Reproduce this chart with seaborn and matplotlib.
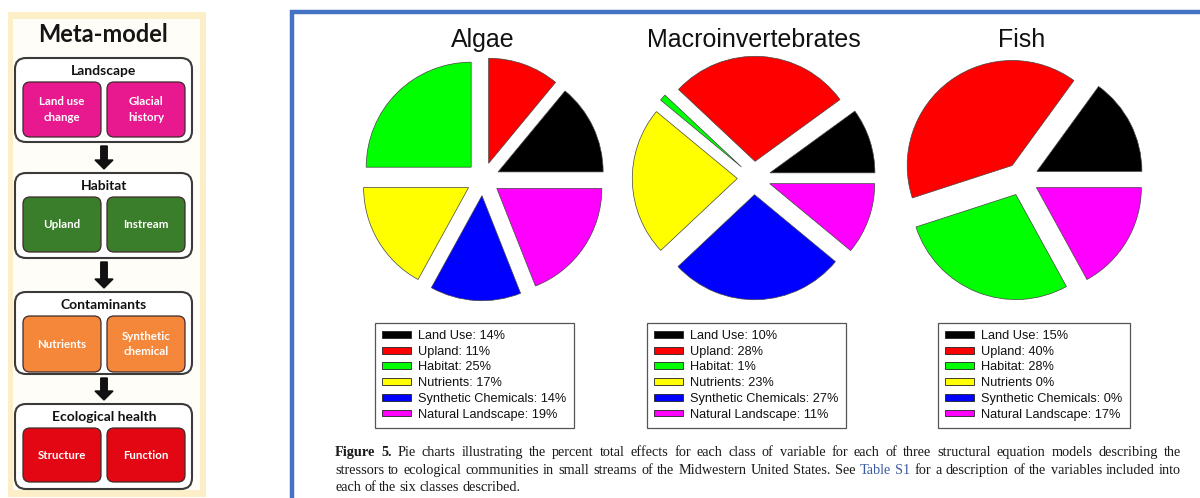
import matplotlib
matplotlib.use("Agg")
import matplotlib.pyplot as plt
import seaborn as sns
from matplotlib.patches import Patch, FancyBboxPatch, Rectangle, FancyArrow

sns.set_theme(style="white")
plt.rcParams["font.family"] = ["Liberation Sans", "DejaVu Sans"]

W, H, DPI = 1200, 498, 100

# ---------------- data ----------------
categories = ["Land Use", "Upland", "Habitat", "Nutrients",
              "Synthetic Chemicals", "Natural Landscape"]
class_colors = ["#000000", "#ff0000", "#00ff00", "#ffff00", "#0000ff", "#ff00ff"]
models = ["Algae", "Macroinvertebrates", "Fish"]
algae = [14, 11, 25, 17, 14, 19]
macro = [10, 28, 1, 23, 27, 11]
fish = [15, 40, 28, 0, 0, 17]
algae_labels = ["Land Use: 14%", "Upland: 11%", "Habitat: 25%", "Nutrients: 17%",
                "Synthetic Chemicals: 14%", "Natural Landscape: 19%"]
macro_labels = ["Land Use: 10%", "Upland: 28%", "Habitat: 1%", "Nutrients: 23%",
                "Synthetic Chemicals: 27%", "Natural Landscape: 11%"]
fish_labels = ["Land Use: 15%", "Upland: 40%", "Habitat: 28%", "Nutrients 0%",
               "Synthetic Chemicals: 0%", "Natural Landscape: 17%"]

meta_groups = ["Landscape", "Habitat", "Contaminants", "Ecological health"]
meta_items = [["Land use\nchange", "Glacial\nhistory"],
              ["Upland", "Instream"],
              ["Nutrients", "Synthetic\nchemical"],
              ["Structure", "Function"]]
meta_colors = ["#e8198f", "#3a7d2b", "#f4873a", "#e30613"]

caption_line1 = ("Pie charts illustrating the percent total effects for each class of variable "
                 "for each of three structural equation models describing the")
caption_line2a = "stressors to ecological communities in small streams of the Midwestern United States. See"
caption_link = "Table S1"
caption_line2b = "for a description of the variables included into"
caption_line3 = "each of the six classes described."

# ---------------- figure ----------------
fig = plt.figure(figsize=(W / DPI, H / DPI), dpi=DPI)
fig.patch.set_facecolor("white")

bg = fig.add_axes([0, 0, 1, 1])
bg.set_xlim(0, W)
bg.set_ylim(H, 0)
bg.axis("off")

# left panel: meta-model
bg.add_patch(Rectangle((8, 12), 198, 485, facecolor="#fcefc8", edgecolor="none"))
bg.add_patch(Rectangle((13, 19), 187, 471, facecolor="#fffdf7", edgecolor="none"))
bg.text(103, 34, "Meta-model", ha="center", va="center", fontsize=17,
        fontweight="bold", family=["Lato", "DejaVu Sans"], color="#151515")

group_tops = [58, 173, 292, 404]
group_h = [84, 85, 82, 85]
label_off = 13
inner_off = 24
inner_h = [55, 55, 56, 54]
for gi, grp in enumerate(meta_groups):
    top = group_tops[gi]
    bg.add_patch(FancyBboxPatch((15, top), 177, group_h[gi],
                                boxstyle="round,pad=0,rounding_size=11",
                                facecolor="white", edgecolor="#3a3a3a", linewidth=1.5))
    bg.text(104, top + label_off, grp, ha="center", va="center", fontsize=10,
            fontweight="bold", family=["Lato", "DejaVu Sans"], color="#111")
    for k, item in enumerate(meta_items[gi]):
        x0 = 23 if k == 0 else 107
        bg.add_patch(FancyBboxPatch((x0, top + inner_off), 78, inner_h[gi],
                                    boxstyle="round,pad=0,rounding_size=7",
                                    facecolor=meta_colors[gi], edgecolor="#3d2a2a",
                                    linewidth=0.9))
        bg.text(x0 + 39, top + inner_off + inner_h[gi] / 2, item, ha="center",
                va="center", fontsize=8.3, fontweight="bold", color="white",
                family=["Lato", "DejaVu Sans"], linespacing=1.45)
    if gi < len(meta_groups) - 1:
        y0 = top + group_h[gi] + 4
        y1 = group_tops[gi + 1] - 4
        bg.add_patch(FancyArrow(104, y0, 0, y1 - y0, width=6.5, head_width=18,
                                head_length=9, length_includes_head=True,
                                color="#111111"))

# right panel border
bg.plot([292, 292, W + 5], [H + 5, 11.5, 11.5], color="#4472c4", linewidth=3.2,
        solid_joinstyle="miter")

# ---------------- pies ----------------
centers = [(483, 179), (754, 178), (1022, 179)]
series = [algae, macro, fish]
legend_labels = [algae_labels, macro_labels, fish_labels]
legend_pos = [(375, 323), (647, 323), (938, 323)]
S = 300
for mi, name in enumerate(models):
    cx, cy = centers[mi]
    ax = fig.add_axes([(cx - S / 2) / W, 1 - (cy + S / 2) / H, S / W, S / H])
    vals = [v for v in series[mi] if v > 0]
    cols = [c for v, c in zip(series[mi], class_colors) if v > 0]
    ax.pie(vals, colors=cols, startangle=0, counterclock=True,
           explode=[0.167] * len(vals), radius=1.05,
           wedgeprops=dict(edgecolor="#444444", linewidth=0.5))
    ax.set_xlim(-1.5, 1.5)
    ax.set_ylim(-1.5, 1.5)
    ax.set_aspect("equal")
    ax.axis("off")
    ax.text(0, (cy - 47) / 100, name, ha="center", va="baseline", fontsize=18,
            color="#111")

    handles = [Patch(facecolor=c, edgecolor="#222", linewidth=0.6) for c in class_colors]
    lx, ly = legend_pos[mi]
    leg = fig.legend(handles, legend_labels[mi], loc="upper left",
                     bbox_to_anchor=(lx / W, 1 - ly / H), bbox_transform=fig.transFigure,
                     borderaxespad=0, fontsize=9.2, frameon=True, fancybox=False,
                     edgecolor="#555555", handlelength=2.3, handleheight=0.45,
                     handletextpad=0.55, labelspacing=0.29, borderpad=0.55)
    leg.get_frame().set_linewidth(0.9)
    leg.get_frame().set_facecolor("white")
    leg.get_frame().set_alpha(1)
    for t in leg.get_texts():
        t.set_color("#111")

# ---------------- caption (justified) ----------------
cap_font = dict(family=["Liberation Serif", "DejaVu Serif"], fontsize=10.3, color="#1a1a1a")
renderer = fig.canvas.get_renderer()
X0, X1 = 335, 1181


def justify(pieces, y, full=True):
    words = []
    for text, style in pieces:
        for w in text.split(" "):
            if w:
                words.append((w, style))
    objs = []
    for w, style in words:
        kw = dict(cap_font)
        if style == "bold":
            kw["fontweight"] = "bold"
        elif style == "link":
            kw["color"] = "#3b5ba5"
        objs.append(bg.text(0, y, w, ha="left", va="baseline", **kw))
    widths = [o.get_window_extent(renderer=renderer).width for o in objs]
    space_w = 3.2
    if full and len(objs) > 1:
        space_w = (X1 - X0 - sum(widths)) / (len(objs) - 1)
    x = X0
    for o, wd in zip(objs, widths):
        o.set_x(x)
        x += wd + space_w


justify([("Figure 5.", "bold"), (caption_line1, "normal")], 456)
justify([(caption_line2a, "normal"), (caption_link, "link"), (caption_line2b, "normal")], 473.5)
justify([(caption_line3, "normal")], 491, full=False)

fig.savefig("out.png", dpi=DPI)
